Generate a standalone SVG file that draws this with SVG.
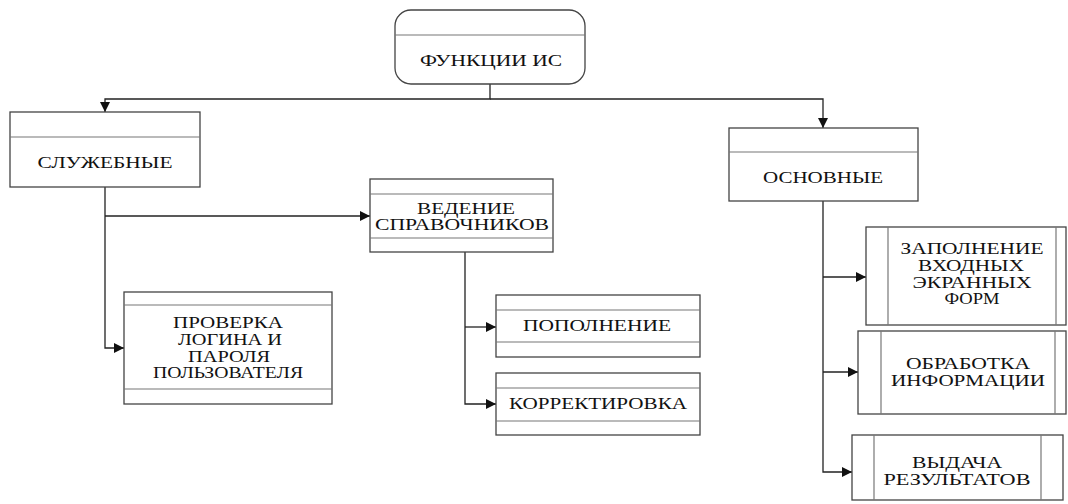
<svg xmlns="http://www.w3.org/2000/svg" width="1068" height="504" viewBox="0 0 1068 504">
<defs>
<style>
.box{fill:#fff;stroke:#444;stroke-width:1.3}
.div{stroke:#777;stroke-width:1.2;fill:none}
.con{stroke:#222;stroke-width:1.3;fill:none}
.t{font-family:'Liberation Serif','DejaVu Serif','Times New Roman',serif;font-size:16px;fill:#111;text-anchor:middle}
</style>
<marker id="arr" viewBox="0 0 10 10" refX="10" refY="5" markerWidth="10" markerHeight="10" markerUnits="userSpaceOnUse" orient="auto">
<path d="M0,0 L10,5 L0,10 Z" fill="#111"/>
</marker>
</defs>
<rect width="1068" height="504" fill="#fff"/>
<g id="connectors">
<path class="con" d="M490,84 V99 H105 V112" marker-end="url(#arr)"/>
<path class="con" d="M490,99 H823 V128" marker-end="url(#arr)"/>
<path class="con" d="M105,187 V348 H124" marker-end="url(#arr)"/>
<path class="con" d="M105,216 H370" marker-end="url(#arr)"/>
<path class="con" d="M465,252 V404 H496" marker-end="url(#arr)"/>
<path class="con" d="M465,327 H496" marker-end="url(#arr)"/>
<path class="con" d="M823,201 V472 H852" marker-end="url(#arr)"/>
<path class="con" d="M823,277 H866" marker-end="url(#arr)"/>
<path class="con" d="M823,372 H858" marker-end="url(#arr)"/>
</g>
<g id="n-functions">
<rect class="box" x="395" y="10" width="190" height="74" rx="16"/>
<line class="div" x1="395" y1="35" x2="585" y2="35"/>
<text class="t" x="491" y="66" textLength="142" lengthAdjust="spacingAndGlyphs">ФУНКЦИИ ИС</text>
</g>
<g id="n-service">
<rect class="box" x="10" y="112" width="190" height="75"/>
<line class="div" x1="10" y1="137" x2="200" y2="137"/>
<text class="t" x="105" y="168" textLength="135" lengthAdjust="spacingAndGlyphs">СЛУЖЕБНЫЕ</text>
</g>
<g id="n-directories">
<rect class="box" x="370" y="179" width="183" height="73"/>
<line class="div" x1="370" y1="194" x2="553" y2="194"/>
<line class="div" x1="370" y1="238" x2="553" y2="238"/>
<text class="t" x="466" y="214" textLength="98" lengthAdjust="spacingAndGlyphs">ВЕДЕНИЕ</text>
<text class="t" x="462" y="230" textLength="174" lengthAdjust="spacingAndGlyphs">СПРАВОЧНИКОВ</text>
</g>
<g id="n-login">
<rect class="box" x="124" y="292" width="208" height="112"/>
<line class="div" x1="124" y1="305" x2="332" y2="305"/>
<line class="div" x1="124" y1="389" x2="332" y2="389"/>
<text class="t" x="228" y="328" textLength="110" lengthAdjust="spacingAndGlyphs">ПРОВЕРКА</text>
<text class="t" x="230" y="345" textLength="104" lengthAdjust="spacingAndGlyphs">ЛОГИНА И</text>
<text class="t" x="229" y="362" textLength="82" lengthAdjust="spacingAndGlyphs">ПАРОЛЯ</text>
<text class="t" x="228" y="378" textLength="150" lengthAdjust="spacingAndGlyphs">ПОЛЬЗОВАТЕЛЯ</text>
</g>
<g id="n-add">
<rect class="box" x="496" y="295" width="204" height="62"/>
<line class="div" x1="496" y1="310" x2="700" y2="310"/>
<line class="div" x1="496" y1="342" x2="700" y2="342"/>
<text class="t" x="597" y="331" textLength="148" lengthAdjust="spacingAndGlyphs">ПОПОЛНЕНИЕ</text>
</g>
<g id="n-correct">
<rect class="box" x="496" y="373" width="204" height="62"/>
<line class="div" x1="496" y1="388" x2="700" y2="388"/>
<line class="div" x1="496" y1="421" x2="700" y2="421"/>
<text class="t" x="598" y="409" textLength="178" lengthAdjust="spacingAndGlyphs">КОРРЕКТИРОВКА</text>
</g>
<g id="n-main">
<rect class="box" x="729" y="128" width="189" height="73"/>
<line class="div" x1="729" y1="152" x2="918" y2="152"/>
<text class="t" x="823" y="183" textLength="120" lengthAdjust="spacingAndGlyphs">ОСНОВНЫЕ</text>
</g>
<g id="n-fill">
<rect class="box" x="866" y="227" width="200" height="98"/>
<line class="div" x1="888" y1="227" x2="888" y2="325"/>
<line class="div" x1="1056" y1="227" x2="1056" y2="325"/>
<text class="t" x="972" y="254" textLength="143" lengthAdjust="spacingAndGlyphs">ЗАПОЛНЕНИЕ</text>
<text class="t" x="971" y="271" textLength="106" lengthAdjust="spacingAndGlyphs">ВХОДНЫХ</text>
<text class="t" x="972" y="288" textLength="119" lengthAdjust="spacingAndGlyphs">ЭКРАННЫХ</text>
<text class="t" x="972" y="304" textLength="55" lengthAdjust="spacingAndGlyphs">ФОРМ</text>
</g>
<g id="n-process">
<rect class="box" x="858" y="331" width="208" height="83"/>
<line class="div" x1="881" y1="331" x2="881" y2="414"/>
<line class="div" x1="1055" y1="331" x2="1055" y2="414"/>
<text class="t" x="968" y="369" textLength="124" lengthAdjust="spacingAndGlyphs">ОБРАБОТКА</text>
<text class="t" x="968" y="386" textLength="154" lengthAdjust="spacingAndGlyphs">ИНФОРМАЦИИ</text>
</g>
<g id="n-output">
<rect class="box" x="852" y="435" width="211" height="65"/>
<line class="div" x1="874" y1="435" x2="874" y2="500"/>
<line class="div" x1="1041" y1="435" x2="1041" y2="500"/>
<text class="t" x="957" y="468" textLength="90" lengthAdjust="spacingAndGlyphs">ВЫДАЧА</text>
<text class="t" x="957" y="485" textLength="147" lengthAdjust="spacingAndGlyphs">РЕЗУЛЬТАТОВ</text>
</g>
</svg>
